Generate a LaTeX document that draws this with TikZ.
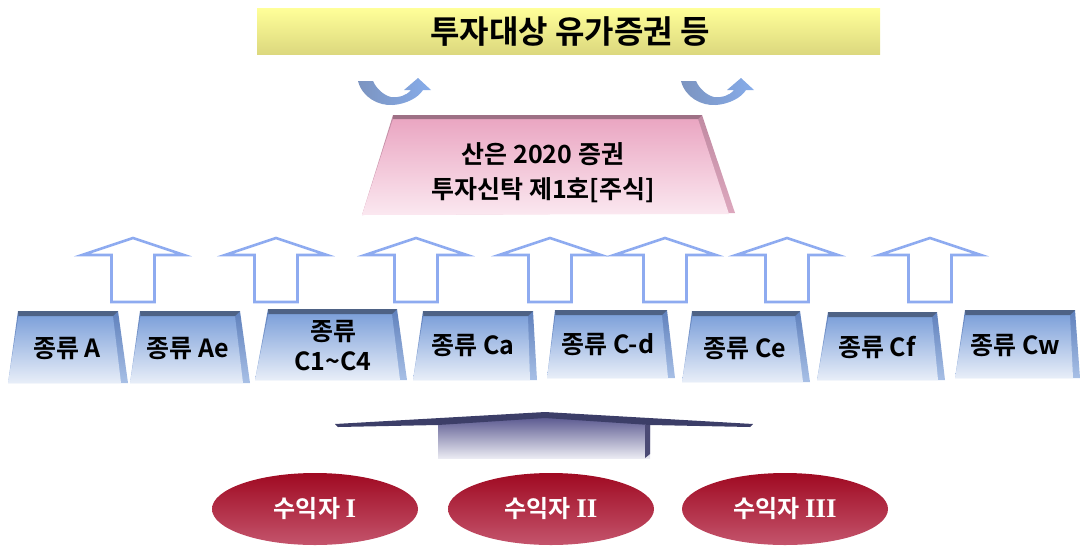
\documentclass[tikz,border=0pt]{standalone}
\usepackage{fontspec}
\setmainfont{Noto Sans CJK KR}[BoldFont=* Bold]
\newfontfamily\romfont{Liberation Serif}
\usetikzlibrary{shapes.geometric}
\definecolor{banT}{HTML}{FFFF99}
\definecolor{banB}{HTML}{DCD87E}
\definecolor{pinkT}{HTML}{EAA6C2}
\definecolor{pinkB}{HTML}{FBE8F0}
\definecolor{pinkRim}{HTML}{9E7085}
\definecolor{pinkSideT}{HTML}{C08AA2}
\definecolor{pinkSideB}{HTML}{DDA8BE}
\definecolor{boxT}{HTML}{7EA1DA}
\definecolor{boxB}{HTML}{E8EEF8}
\definecolor{boxRim}{HTML}{4E6285}
\definecolor{boxSideT}{HTML}{5F80BC}
\definecolor{boxSideB}{HTML}{A8C0E6}
\definecolor{arrowline}{HTML}{8EABF0}
\definecolor{redT}{HTML}{A00A22}
\definecolor{redB}{HTML}{C4546C}
\definecolor{navy}{HTML}{3C3E68}
\definecolor{shaftT}{HTML}{5E5C92}
\definecolor{shaftB}{HTML}{EAEAF2}
\definecolor{curlL}{HTML}{7C94C0}
\definecolor{curlM}{HTML}{EEF3FC}
\definecolor{curlR}{HTML}{86ACEA}
\newcommand\clsbox[6]{%
  \shade[top color=boxSideT,bottom color=boxSideB] (#1,#5) -- (#2,#5) -- (#4,#6) -- (#3,#6) -- cycle;
  \shade[top color=boxT,bottom color=boxB] ({#1+0.5},{#5+5}) -- ({#2-5},{#5+5}) -- ({#4-7},#6) -- (#3,#6) -- cycle;
  \fill[boxRim] (#1,#5) -- (#2,#5) -- ({#2-5},{#5+5}) -- ({#1+0.5},{#5+5}) -- cycle;
}
\newcommand\hollowup[1]{%
  \draw[arrowline,line width=2.6pt,line join=miter,fill=white]
    (#1,238) -- ({#1+51},255) -- ({#1+21.5},255) -- ({#1+21.5},302)
    -- ({#1-21.5},302) -- ({#1-21.5},255) -- ({#1-51},255) -- cycle;
}
\newcommand\curl[1]{%
  \begin{scope}[xshift=#1]
  \shade[left color=curlL,middle color=curlM,right color=curlR]
    (358,81) .. controls (362,97) and (378,106) .. (393,105)
    .. controls (406,104) and (418,98) .. (423,90)
    -- (431,90) -- (418,78) -- (404,90) -- (411,90)
    .. controls (406,96) and (398,98) .. (391,97)
    .. controls (383,95) and (376,88) .. (373,81) -- cycle;
  \end{scope}
}
\tikzset{
  boxtext/.style={font=\bfseries\fontsize{25}{30}\selectfont,text=black,align=center,inner sep=0pt},
  pinktext/.style={font=\bfseries\fontsize{25}{35}\selectfont,text=black,align=center,inner sep=0pt},
  bantext/.style={font=\bfseries\fontsize{32}{38}\selectfont,text=black,inner sep=0pt},
  benef/.style={ellipse,minimum width=206pt,minimum height=72pt,inner sep=0pt,
    top color=redT,bottom color=redB,draw=none,
    font=\bfseries\fontsize{24}{28}\selectfont,text=white},
  roman/.style={}
}
\newcommand\rnum[1]{{\romfont\bfseries\fontsize{27}{28}\selectfont #1}}
\begin{document}
\begin{tikzpicture}[x=1pt,y=-1pt]
\useasboundingbox (0,0) rectangle (1081,547);
% banner
\shade[top color=banT,bottom color=banB] (257,8) rectangle (880,54);
\node[bantext] (banner) at (570,32) {투자대상 유가증권 등};
% curl arrows
\curl{0pt}
\curl{323pt}
% pink fund box
\shade[top color=pinkSideT,bottom color=pinkSideB] (393,115) -- (702,115) -- (735,213) -- (362,215) -- cycle;
\shade[top color=pinkT,bottom color=pinkB] (393,119) -- (698,119) -- (729,214) -- (362,215) -- cycle;
\fill[pinkRim] (393,115) -- (702,115) -- (698,119) -- (393,119) -- cycle;
\node[pinktext] (fund) at (543,173) {산은 2020 증권\\투자신탁 제1호[주식]};
% hollow arrows
\foreach \cx in {133,276,416,550,665,787,930} {\hollowup{\cx}}
% class boxes
\clsbox{18}{118}{8}{128}{311}{383}
\clsbox{140}{240}{130}{250}{311}{383}
\clsbox{268}{397}{255}{407}{309}{380}
\clsbox{423}{533}{413}{537}{311}{380}
\clsbox{555}{667}{547}{675}{310}{378}
\clsbox{692}{800}{682}{810}{311}{382}
\clsbox{828}{937}{817}{945}{312}{380}
\clsbox{965}{1075}{955}{1080}{310}{378}
\node[boxtext] (cA) at (67,348) {종류 A};
\node[boxtext] (cAe) at (188,348) {종류 Ae};
\node[boxtext] (cC) at (333,346) {종류\\C1\textasciitilde C4};
\node[boxtext] (cCa) at (473,345) {종류 Ca};
\node[boxtext] (cCd) at (608,344) {종류 C-d};
\node[boxtext] (cCe) at (745,348) {종류 Ce};
\node[boxtext] (cCf) at (877,347) {종류 Cf};
\node[boxtext] (cCw) at (1015,345) {종류 Cw};
% big up arrow
\shade[top color=shaftT,bottom color=shaftB] (438,418) rectangle (650,458);
\fill[shaftT!80!black] (645,425) -- (650,425) -- (650,454) -- (645,458) -- cycle;
\fill[navy] (335,424) -- (545,412) -- (753,424) -- (750,427) -- (650,425) -- (545,418) -- (438,425) -- (338,427) -- cycle;
% beneficiaries
\node[benef] (b1) at (315,509) {수익자 \rnum{I}};
\node[benef] (b2) at (551,509) {수익자 \rnum{II}};
\node[benef] (b3) at (785,509) {수익자 \rnum{III}};
\end{tikzpicture}
\end{document}
